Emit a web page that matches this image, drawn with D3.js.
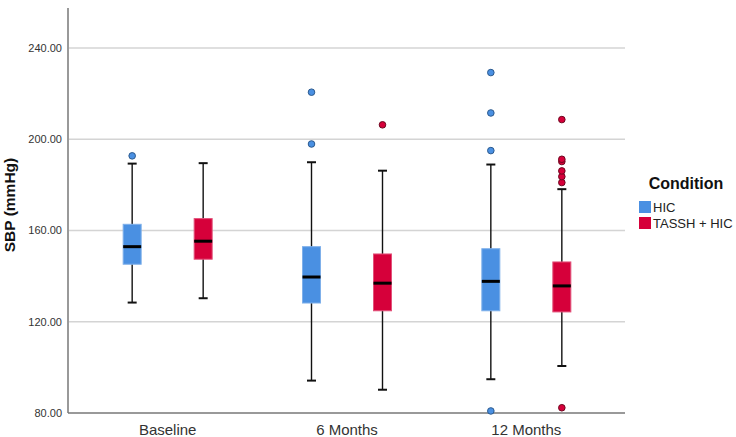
<!DOCTYPE html>
<html><head><meta charset="utf-8">
<script src="https://cdn.jsdelivr.net/npm/d3@7"></script>
<style>body{margin:0;background:#fff;} svg{display:block;font-family:Arial,"Liberation Sans",sans-serif;}</style>
</head><body>
<svg id="chart" width="736" height="437"></svg>
<script>
const categories = ["Baseline", "6 Months", "12 Months"];
const groups = ["HIC", "TASSH + HIC"];
const yTicks = [80, 120, 160, 200, 240];
// per group, one value per category
const hicWhiskerLow  = [128.4, 94.2, 94.8];
const hicQ1          = [145.2, 128.2, 124.8];
const hicMedian      = [152.9, 139.6, 137.7];
const hicQ3          = [162.7, 152.9, 152.0];
const hicWhiskerHigh = [189.3, 189.9, 188.9];
const hicOutliers    = [[192.7], [197.9, 220.6], [80.9, 195.0, 211.5, 229.2]];
const tasshWhiskerLow  = [130.3, 90.2, 100.6];
const tasshQ1          = [147.4, 124.8, 124.3];
const tasshMedian      = [155.3, 136.9, 135.7];
const tasshQ3          = [165.2, 149.7, 146.2];
const tasshWhiskerHigh = [189.5, 186.2, 178.1];
const tasshOutliers    = [[], [206.3], [82.3, 181.0, 183.6, 186.1, 190.2, 191.2, 208.6]];

(function () {
const colors = {"HIC": "#4a90e2", "TASSH + HIC": "#d6003a"};
const strokes = {"HIC": "#7fb0ea", "TASSH + HIC": "#e2527a"};
const outStroke = {"HIC": "#2c5a8e", "TASSH + HIC": "#6e0820"};

const series = [
  {g: "HIC", lo: hicWhiskerLow, q1: hicQ1, med: hicMedian, q3: hicQ3, hi: hicWhiskerHigh, out: hicOutliers},
  {g: "TASSH + HIC", lo: tasshWhiskerLow, q1: tasshQ1, med: tasshMedian, q3: tasshQ3, hi: tasshWhiskerHigh, out: tasshOutliers}
];
const boxes = [];
series.forEach(s => categories.forEach((c, i) => boxes.push({
  g: s.g, c, lo: s.lo[i], q1: s.q1[i], med: s.med[i], q3: s.q3[i], hi: s.hi[i], out: s.out[i]
})));

const svg = d3.select("#chart");
const pLeft = 68, pRight = 625, pTop = 8, pBottom = 413;
const y = d3.scaleLinear().domain([80, 257.5]).range([pBottom, pTop]);
const x = d3.scaleBand().domain(categories).range([78, 616]);
const xg = d3.scalePoint().domain(groups).range([-35.5, 35.5]);
const boxW = 18, capW = 9;
const cx = d => x(d.c) + x.bandwidth() / 2 + xg(d.g);

// gridlines
svg.append("g").selectAll("line").data(yTicks.filter(t => t > 80)).join("line")
  .attr("x1", pLeft).attr("x2", pRight).attr("y1", d => y(d)).attr("y2", d => y(d))
  .attr("stroke", "#d4d4d4").attr("stroke-width", 1.5);

// y axis
const yAxis = svg.append("g").attr("transform", `translate(${pLeft},0)`)
  .call(d3.axisLeft(y).tickValues(yTicks).tickFormat(d3.format(".2f")).tickSize(0).tickPadding(6));
yAxis.select(".domain").remove();
yAxis.selectAll("text").attr("font-size", 11).attr("fill", "#333").attr("font-family", "Arial, Liberation Sans, sans-serif");
svg.append("line").attr("x1", pLeft).attr("x2", pLeft).attr("y1", pTop).attr("y2", pBottom)
  .attr("stroke", "#999").attr("stroke-width", 2);

// x axis
const xAxis = svg.append("g").attr("transform", `translate(0,${pBottom})`)
  .call(d3.axisBottom(x).tickSize(0).tickPadding(11));
xAxis.select(".domain").remove();
xAxis.selectAll("text").attr("font-size", 15).attr("fill", "#333").attr("font-family", "Arial, Liberation Sans, sans-serif");
svg.append("line").attr("x1", pLeft).attr("x2", pRight).attr("y1", pBottom).attr("y2", pBottom)
  .attr("stroke", "#777").attr("stroke-width", 1.5);

// y title
svg.append("text").attr("transform", `translate(15,205) rotate(-90)`).attr("text-anchor", "middle")
  .attr("font-size", 15.5).attr("font-weight", "bold").attr("fill", "#111").text("SBP (mmHg)");

const gb = svg.append("g");
// whiskers
gb.selectAll(".wl").data(boxes).join("line")
  .attr("x1", cx).attr("x2", cx).attr("y1", d => y(d.lo)).attr("y2", d => y(d.hi))
  .attr("stroke", "#111").attr("stroke-width", 1.4);
gb.selectAll(".capt").data(boxes).join("line")
  .attr("x1", d => cx(d) - capW / 2).attr("x2", d => cx(d) + capW / 2)
  .attr("y1", d => y(d.hi)).attr("y2", d => y(d.hi)).attr("stroke", "#111").attr("stroke-width", 2);
gb.selectAll(".capb").data(boxes).join("line")
  .attr("x1", d => cx(d) - capW / 2).attr("x2", d => cx(d) + capW / 2)
  .attr("y1", d => y(d.lo)).attr("y2", d => y(d.lo)).attr("stroke", "#111").attr("stroke-width", 2);
// boxes
gb.selectAll(".box").data(boxes).join("rect")
  .attr("x", d => cx(d) - boxW / 2).attr("width", boxW)
  .attr("y", d => y(d.q3)).attr("height", d => y(d.q1) - y(d.q3))
  .attr("fill", d => colors[d.g]).attr("stroke", d => strokes[d.g]).attr("stroke-width", 1);
// medians
gb.selectAll(".med").data(boxes).join("line")
  .attr("x1", d => cx(d) - boxW / 2).attr("x2", d => cx(d) + boxW / 2)
  .attr("y1", d => y(d.med)).attr("y2", d => y(d.med)).attr("stroke", "#000").attr("stroke-width", 3);
// outliers
const outs = [];
boxes.forEach(b => b.out.forEach(v => outs.push({g: b.g, c: b.c, v})));
gb.selectAll(".out").data(outs).join("circle")
  .attr("cx", cx).attr("cy", d => y(d.v)).attr("r", 3.3)
  .attr("fill", d => colors[d.g]).attr("stroke", d => outStroke[d.g]).attr("stroke-width", 1);

// legend
const lg = svg.append("g");
lg.append("text").attr("x", 686).attr("y", 189).attr("text-anchor", "middle")
  .attr("font-size", 16).attr("font-weight", "bold").attr("fill", "#111").text("Condition");
const li = lg.selectAll(".li").data(groups).join("g")
  .attr("transform", (d, i) => `translate(639,${201 + i * 16})`);
li.append("rect").attr("width", 12).attr("height", 12).attr("fill", d => colors[d]);
li.append("text").attr("x", 14).attr("y", 11).attr("font-size", 13).attr("fill", "#222").text(d => d);
})();
</script>
</body></html>
